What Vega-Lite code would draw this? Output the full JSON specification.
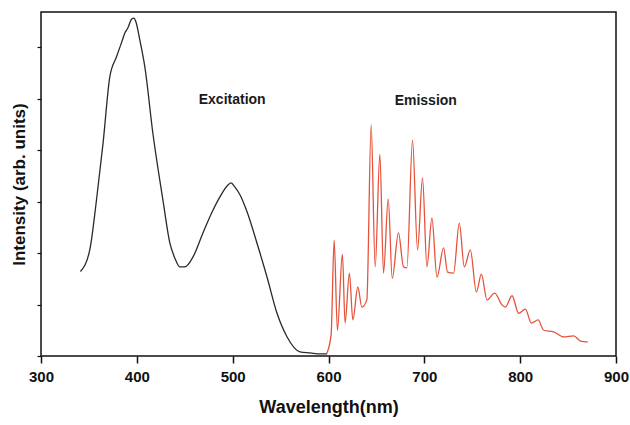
{
  "$schema": "https://vega.github.io/schema/vega-lite/v6.json",
  "width": 575,
  "height": 344,
  "autosize": {"type": "none"},
  "padding": {"left": 41, "top": 12, "right": 14, "bottom": 69},
  "background": "white",
  "config": {
    "view": {"stroke": "#111", "strokeWidth": 1.5},
    "font": "Liberation Sans"
  },
  "datasets": {
    "spectra": [
      {"series": "Excitation", "nm": 341.2, "v": 1.64},
      {"series": "Excitation", "nm": 350.9, "v": 2.06},
      {"series": "Excitation", "nm": 357.9, "v": 3.03},
      {"series": "Excitation", "nm": 364.8, "v": 4.14},
      {"series": "Excitation", "nm": 371.8, "v": 5.42},
      {"series": "Excitation", "nm": 378.8, "v": 5.81},
      {"series": "Excitation", "nm": 384.3, "v": 6.10},
      {"series": "Excitation", "nm": 387.5, "v": 6.27},
      {"series": "Excitation", "nm": 390.6, "v": 6.37},
      {"series": "Excitation", "nm": 394.5, "v": 6.54},
      {"series": "Excitation", "nm": 396.9, "v": 6.56},
      {"series": "Excitation", "nm": 399.0, "v": 6.49},
      {"series": "Excitation", "nm": 403.1, "v": 6.14},
      {"series": "Excitation", "nm": 408.4, "v": 5.61},
      {"series": "Excitation", "nm": 416.7, "v": 4.33},
      {"series": "Excitation", "nm": 427.2, "v": 3.03},
      {"series": "Excitation", "nm": 434.5, "v": 2.19},
      {"series": "Excitation", "nm": 439.7, "v": 1.90},
      {"series": "Excitation", "nm": 444.9, "v": 1.73},
      {"series": "Excitation", "nm": 450.2, "v": 1.73},
      {"series": "Excitation", "nm": 458.5, "v": 1.92},
      {"series": "Excitation", "nm": 469.0, "v": 2.39},
      {"series": "Excitation", "nm": 479.4, "v": 2.83},
      {"series": "Excitation", "nm": 486.7, "v": 3.09},
      {"series": "Excitation", "nm": 495.1, "v": 3.32},
      {"series": "Excitation", "nm": 498.2, "v": 3.36},
      {"series": "Excitation", "nm": 502.4, "v": 3.28},
      {"series": "Excitation", "nm": 507.6, "v": 3.13},
      {"series": "Excitation", "nm": 515.0, "v": 2.80},
      {"series": "Excitation", "nm": 525.4, "v": 2.19},
      {"series": "Excitation", "nm": 535.9, "v": 1.53},
      {"series": "Excitation", "nm": 546.3, "v": 0.83},
      {"series": "Excitation", "nm": 556.8, "v": 0.37},
      {"series": "Excitation", "nm": 570.3, "v": 0.08},
      {"series": "Excitation", "nm": 580.8, "v": 0.06},
      {"series": "Excitation", "nm": 591.3, "v": 0.04},
      {"series": "Excitation", "nm": 598.5, "v": 0.04},
      {"series": "Emission", "nm": 598.2, "v": 0.05},
      {"series": "Emission", "nm": 602.7, "v": 0.41},
      {"series": "Emission", "nm": 605.9, "v": 2.25},
      {"series": "Emission", "nm": 609.3, "v": 0.50},
      {"series": "Emission", "nm": 614.5, "v": 1.98},
      {"series": "Emission", "nm": 617.3, "v": 0.64},
      {"series": "Emission", "nm": 621.8, "v": 1.61},
      {"series": "Emission", "nm": 625.4, "v": 0.70},
      {"series": "Emission", "nm": 630.6, "v": 1.34},
      {"series": "Emission", "nm": 634.8, "v": 0.95},
      {"series": "Emission", "nm": 640.0, "v": 1.09},
      {"series": "Emission", "nm": 644.5, "v": 4.49},
      {"series": "Emission", "nm": 648.7, "v": 1.73},
      {"series": "Emission", "nm": 653.6, "v": 3.92},
      {"series": "Emission", "nm": 657.4, "v": 1.61},
      {"series": "Emission", "nm": 662.3, "v": 3.05},
      {"series": "Emission", "nm": 666.5, "v": 1.51},
      {"series": "Emission", "nm": 673.0, "v": 2.39},
      {"series": "Emission", "nm": 678.3, "v": 1.73},
      {"series": "Emission", "nm": 681.8, "v": 1.71},
      {"series": "Emission", "nm": 687.7, "v": 4.19},
      {"series": "Emission", "nm": 692.9, "v": 2.06},
      {"series": "Emission", "nm": 698.1, "v": 3.46},
      {"series": "Emission", "nm": 702.7, "v": 1.73},
      {"series": "Emission", "nm": 707.9, "v": 2.68},
      {"series": "Emission", "nm": 713.2, "v": 1.53},
      {"series": "Emission", "nm": 720.1, "v": 2.10},
      {"series": "Emission", "nm": 724.2, "v": 1.63},
      {"series": "Emission", "nm": 730.5, "v": 1.61},
      {"series": "Emission", "nm": 736.5, "v": 2.58},
      {"series": "Emission", "nm": 741.7, "v": 1.73},
      {"series": "Emission", "nm": 748.0, "v": 2.06},
      {"series": "Emission", "nm": 754.3, "v": 1.24},
      {"series": "Emission", "nm": 759.5, "v": 1.59},
      {"series": "Emission", "nm": 765.4, "v": 1.09},
      {"series": "Emission", "nm": 773.4, "v": 1.22},
      {"series": "Emission", "nm": 781.1, "v": 0.99},
      {"series": "Emission", "nm": 784.5, "v": 0.95},
      {"series": "Emission", "nm": 791.5, "v": 1.17},
      {"series": "Emission", "nm": 798.4, "v": 0.83},
      {"series": "Emission", "nm": 805.4, "v": 0.91},
      {"series": "Emission", "nm": 811.7, "v": 0.64},
      {"series": "Emission", "nm": 818.7, "v": 0.70},
      {"series": "Emission", "nm": 824.6, "v": 0.50},
      {"series": "Emission", "nm": 835.0, "v": 0.47},
      {"series": "Emission", "nm": 845.5, "v": 0.37},
      {"series": "Emission", "nm": 855.9, "v": 0.39},
      {"series": "Emission", "nm": 862.9, "v": 0.29},
      {"series": "Emission", "nm": 870.5, "v": 0.27}
    ],
    "labels": [
      {"label": "Excitation", "nm": 499.5, "v": 4.97},
      {"label": "Emission", "nm": 701.5, "v": 4.95}
    ]
  },
  "layer": [
    {
      "data": {"name": "spectra"},
      "mark": {"type": "line", "strokeWidth": 1.3, "clip": true, "interpolate": "monotone"},
      "encoding": {
        "x": {
          "field": "nm", "type": "quantitative",
          "scale": {"domain": [300, 900], "nice": false, "zero": false},
          "axis": {
            "title": "Wavelength(nm)",
            "values": [300, 400, 500, 600, 700, 800, 900],
            "grid": false, "domain": false,
            "tickColor": "#111", "tickSize": 7, "tickWidth": 1.5,
            "labelFontSize": 15, "labelFontWeight": "bold", "labelColor": "#111",
            "labelPadding": 6, "labelFlush": false,
            "titleFontSize": 18, "titleFontWeight": "bold", "titleColor": "#111",
            "titlePadding": 14
          }
        },
        "y": {
          "field": "v", "type": "quantitative",
          "scale": {"domain": [0, 6.68], "nice": false},
          "axis": {
            "title": "Intensity (arb. units)",
            "values": [0, 1, 2, 3, 4, 5, 6],
            "labels": false, "grid": false, "domain": false,
            "tickColor": "#111", "tickSize": 4, "tickWidth": 1.2,
            "titleFontSize": 17, "titleFontWeight": "bold", "titleColor": "#111",
            "titlePadding": 8
          }
        },
        "color": {
          "field": "series", "type": "nominal", "legend": null,
          "scale": {"domain": ["Excitation", "Emission"], "range": ["#2a2a2a", "#e5533c"]}
        },
        "detail": {"field": "series"}
      }
    },
    {
      "data": {"name": "labels"},
      "mark": {"type": "text", "fontSize": 14, "fontWeight": "bold", "color": "#1a1a1a", "align": "center", "baseline": "middle"},
      "encoding": {
        "x": {"field": "nm", "type": "quantitative"},
        "y": {"field": "v", "type": "quantitative"},
        "text": {"field": "label"}
      }
    }
  ]
}
